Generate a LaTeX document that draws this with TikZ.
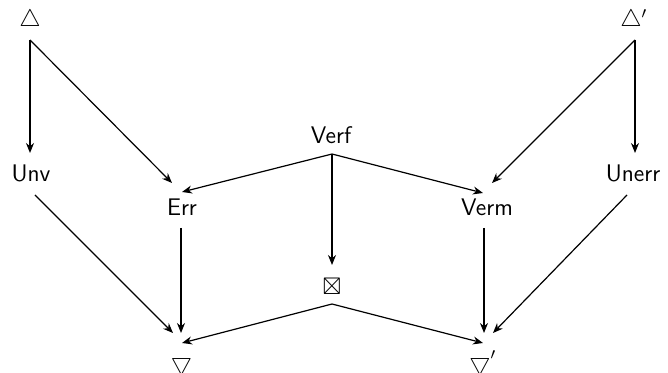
\documentclass[tikz,border=0pt]{standalone}
\usepackage{amssymb}
\usetikzlibrary{arrows.meta,calc}
\begin{document}
\begin{tikzpicture}[x=0.5pt,y=-0.5pt,
  lbl/.style={font=\sffamily\large, inner sep=0pt, anchor=base},
  sym/.style={font=\large, inner sep=0pt, anchor=base},
  arr/.style={-{Stealth[length=5pt,width=4pt]}, line width=0.6pt}]
\useasboundingbox (0,0) rectangle (668,373);

% objects
\node[sym] (top) at (30,27) {$\triangle$};
\node[sym, anchor=base west] (topp) at (620,27) {$\triangle'$};
\node[lbl] (unv) at (31,182) {Unv};
\node[lbl] (unerr) at (633,182) {Unerr};
\node[lbl] (verf) at (331,144) {Verf};
\node[lbl] (err) at (182,216) {Err};
\node[lbl] (verm) at (487,216) {Verm};
\node[sym] (box) at (332,294) {$\boxtimes$};
\node[sym] (bot) at (181.5,370) {\rotatebox[origin=c]{180}{$\triangle$}};
\node[sym, anchor=base west] (botp) at (469,370) {$\rotatebox[origin=c]{180}{$\triangle$}'$};

% left wing
\draw[arr] ($(top.base)+(0,13)$) -- ($(unv.base)+(-1,-29)$);
\draw[arr] ($(top.base)+(0,13)$) -- ($(err.base)+(-10,-33)$);
\draw[arr] ($(unv.base)+(4,13)$) -- ($(bot.base)+(-8.5,-37)$);
\draw[arr] ($(err.base)+(-1,12)$) -- ($(bot.base)+(-0.5,-37)$);

% right wing
\draw[arr] ($(topp.base west)+(15,13)$) -- ($(unerr.base)+(2,-29)$);
\draw[arr] ($(topp.base west)+(15,13)$) -- ($(verm.base)+(5,-33)$);
\draw[arr] ($(unerr.base)+(-6,13)$) -- ($(botp.base west)+(24,-37)$);
\draw[arr] ($(verm.base)+(-3,12)$) -- ($(botp.base west)+(15,-37)$);

% middle
\draw[arr] ($(verf.base)+(1,10)$) -- ($(err.base)+(0,-24)$);
\draw[arr] ($(verf.base)+(1,10)$) -- ($(verm.base)+(-4,-23)$);
\draw[arr] ($(verf.base)+(1,10)$) -- ($(box.base)+(0,-29)$);
\draw[arr] ($(box.base)+(0,10)$) -- ($(bot.base)+(0.5,-27)$);
\draw[arr] ($(box.base)+(0,10)$) -- ($(botp.base west)+(14,-27)$);
\end{tikzpicture}
\end{document}
